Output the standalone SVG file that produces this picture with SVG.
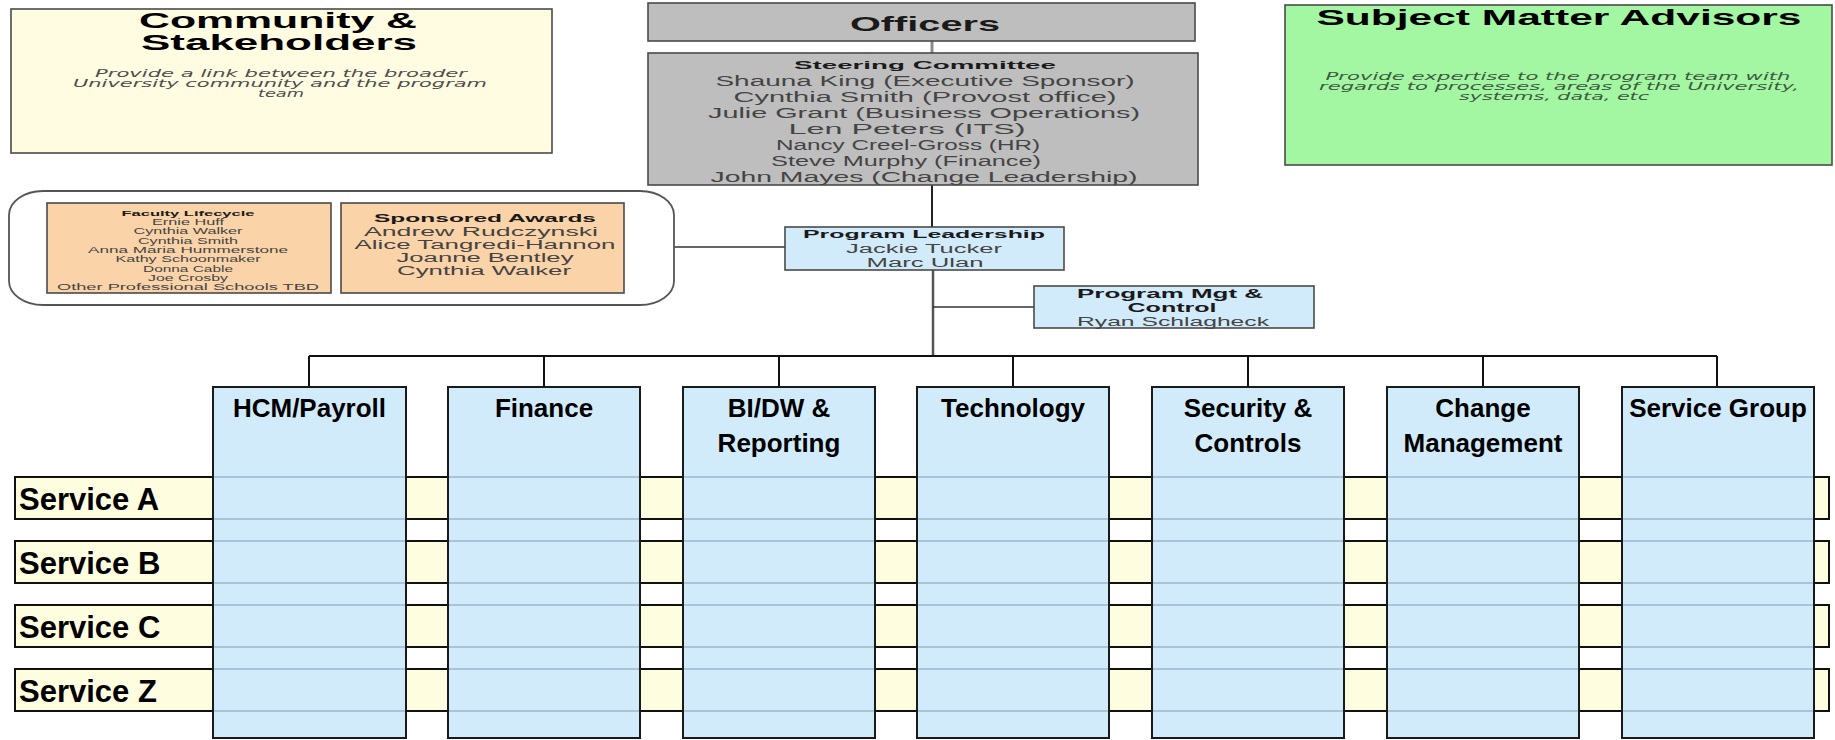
<svg xmlns="http://www.w3.org/2000/svg" width="1835" height="740" viewBox="0 0 1835 740">
<defs>
<style>
text{font-family:"Liberation Sans",Arial,sans-serif;text-anchor:middle}
.box{stroke:#4a4a4a;stroke-width:1.6}
.cream{fill:#FFFCE1}
.green{fill:#A3F7A3}
.gray{fill:#BEBEBE}
.peach{fill:#FAD3A8}
.blue{fill:#D2EBFB}
.col{fill:#D2EBFB;stroke:#1a1a1a;stroke-width:2}
.band{fill:#FFFDE0;stroke:#111;stroke-width:2}
.grid{stroke:#A7C4D8;stroke-width:2}
.conn{fill:none;stroke:#333;stroke-width:1.6}
.tree{fill:none;stroke:#111;stroke-width:2}
.hdr{font-size:26px;font-weight:bold;fill:#000}
.svc{font-size:31px;font-weight:bold;fill:#000;text-anchor:start}
.ttl{font-size:22px;font-weight:bold;fill:#000}
.desc{font-family:"DejaVu Sans",Verdana,sans-serif;font-style:italic;font-size:11px;fill:#4d4d4d}
.gdesc{fill:#3e5a3e}
.bt{font-weight:bold;fill:#1a1a1a}
.nm{fill:#444}
</style>
</defs>

<g id="connectors">
<line x1="932" y1="41" x2="932" y2="53" stroke="#8a8a8a" stroke-width="3"/>
<line x1="932" y1="185" x2="932" y2="227" stroke="#222" stroke-width="2"/>
<line x1="933" y1="270" x2="933" y2="355" stroke="#555" stroke-width="2.5"/>
<line class="conn" x1="933" y1="307" x2="1034" y2="307"/>
<line class="conn" x1="674" y1="247" x2="785" y2="247"/>
<path class="tree" d="M309 356H1717M309 356V387M544 356V387M779 356V387M1013 356V387M1248 356V387M1483 356V387M1717 356V387"/>
</g>

<g id="community">
<rect class="box cream" x="11" y="9" width="541" height="144" stroke-width="2"/>
<text class="ttl" x="278" y="28" font-size="19.5" textLength="278" lengthAdjust="spacingAndGlyphs">Community &amp;</text>
<text class="ttl" x="279" y="50" font-size="19.5" textLength="276" lengthAdjust="spacingAndGlyphs">Stakeholders</text>
<text class="desc" x="281" y="77" textLength="372" lengthAdjust="spacingAndGlyphs">Provide a link between the broader</text>
<text class="desc" x="280" y="87" textLength="414" lengthAdjust="spacingAndGlyphs">University community and the program</text>
<text class="desc" x="281" y="97" textLength="46" lengthAdjust="spacingAndGlyphs">team</text>
</g>

<g id="officers">
<rect class="box gray" x="648" y="3" width="547" height="38"/>
<text class="bt" x="925" y="31" font-size="21" textLength="150" lengthAdjust="spacingAndGlyphs">Officers</text>
</g>

<g id="steering">
<rect class="box gray" x="648" y="53" width="550" height="132"/>
<text class="bt" x="925" y="69" font-size="11" textLength="262" lengthAdjust="spacingAndGlyphs">Steering Committee</text>
<text class="nm" x="925" y="86" font-size="14" textLength="419" lengthAdjust="spacingAndGlyphs">Shauna King (Executive Sponsor)</text>
<text class="nm" x="925" y="102" font-size="14" textLength="383" lengthAdjust="spacingAndGlyphs">Cynthia Smith (Provost office)</text>
<text class="nm" x="924" y="118" font-size="14" textLength="432" lengthAdjust="spacingAndGlyphs">Julie Grant (Business Operations)</text>
<text class="nm" x="907" y="134" font-size="14" textLength="237" lengthAdjust="spacingAndGlyphs">Len Peters (ITS)</text>
<text class="nm" x="908" y="150" font-size="14" textLength="264" lengthAdjust="spacingAndGlyphs">Nancy Creel-Gross (HR)</text>
<text class="nm" x="906" y="166" font-size="14" textLength="270" lengthAdjust="spacingAndGlyphs">Steve Murphy (Finance)</text>
<text class="nm" x="924" y="182" font-size="14" textLength="427" lengthAdjust="spacingAndGlyphs">John Mayes (Change Leadership)</text>
</g>

<g id="subject-matter-advisors">
<rect class="box green" x="1285" y="5" width="547" height="160" stroke-width="2"/>
<text class="ttl" x="1559" y="25" font-size="21" textLength="485" lengthAdjust="spacingAndGlyphs">Subject Matter Advisors</text>
<text class="desc gdesc" x="1558" y="80" textLength="465" lengthAdjust="spacingAndGlyphs">Provide expertise to the program team with</text>
<text class="desc gdesc" x="1559" y="90" textLength="480" lengthAdjust="spacingAndGlyphs">regards to processes, areas of the University,</text>
<text class="desc gdesc" x="1554" y="100" textLength="190" lengthAdjust="spacingAndGlyphs">systems, data, etc</text>
</g>

<g id="functional-groups">
<rect x="9" y="191" width="665" height="114" rx="34" ry="24" fill="#fff" stroke="#555" stroke-width="1.8"/>
</g>

<g id="faculty-lifecycle">
<rect class="box peach" x="47" y="203" width="284" height="90"/>
<text class="bt" x="188" y="216" font-size="8" textLength="133" lengthAdjust="spacingAndGlyphs">Faculty Lifecycle</text>
<text class="nm" x="188" y="225" font-size="8.5" textLength="72" lengthAdjust="spacingAndGlyphs">Ernie Huff</text>
<text class="nm" x="188" y="234" font-size="8.5" textLength="109" lengthAdjust="spacingAndGlyphs">Cynthia Walker</text>
<text class="nm" x="188" y="243.5" font-size="8.5" textLength="100" lengthAdjust="spacingAndGlyphs">Cynthia Smith</text>
<text class="nm" x="188" y="253" font-size="8.5" textLength="200" lengthAdjust="spacingAndGlyphs">Anna Maria Hummerstone</text>
<text class="nm" x="188" y="262" font-size="8.5" textLength="145" lengthAdjust="spacingAndGlyphs">Kathy Schoonmaker</text>
<text class="nm" x="188" y="271.5" font-size="8.5" textLength="90" lengthAdjust="spacingAndGlyphs">Donna Cable</text>
<text class="nm" x="188" y="281" font-size="8.5" textLength="80" lengthAdjust="spacingAndGlyphs">Joe Crosby</text>
<text class="nm" x="188" y="290" font-size="8.5" textLength="262" lengthAdjust="spacingAndGlyphs">Other Professional Schools TBD</text>
</g>

<g id="sponsored-awards">
<rect class="box peach" x="341" y="203" width="283" height="90"/>
<text class="bt" x="485" y="222" font-size="10.5" textLength="222" lengthAdjust="spacingAndGlyphs">Sponsored Awards</text>
<text class="nm" x="481" y="236" font-size="12" textLength="234" lengthAdjust="spacingAndGlyphs">Andrew Rudczynski</text>
<text class="nm" x="485" y="249" font-size="12" textLength="261" lengthAdjust="spacingAndGlyphs">Alice Tangredi-Hannon</text>
<text class="nm" x="485" y="262" font-size="12" textLength="177" lengthAdjust="spacingAndGlyphs">Joanne Bentley</text>
<text class="nm" x="484" y="275" font-size="12" textLength="174" lengthAdjust="spacingAndGlyphs">Cynthia Walker</text>
</g>

<g id="program-leadership">
<rect class="box blue" x="785" y="227" width="279" height="43"/>
<text class="bt" x="924" y="238" font-size="11" textLength="242" lengthAdjust="spacingAndGlyphs">Program Leadership</text>
<text class="nm" x="924" y="253" font-size="12.5" textLength="156" lengthAdjust="spacingAndGlyphs">Jackie Tucker</text>
<text class="nm" x="925" y="267" font-size="12.5" textLength="117" lengthAdjust="spacingAndGlyphs">Marc Ulan</text>
</g>

<g id="program-mgt-control">
<rect class="box blue" x="1034" y="286" width="280" height="42"/>
<text class="bt" x="1170" y="298" font-size="12" textLength="186" lengthAdjust="spacingAndGlyphs">Program Mgt &amp;</text>
<text class="bt" x="1172" y="312" font-size="12" textLength="89" lengthAdjust="spacingAndGlyphs">Control</text>
<text class="nm" x="1173" y="326" font-size="13" textLength="192" lengthAdjust="spacingAndGlyphs">Ryan Schlagheck</text>
</g>

<g id="service-rows">
<rect class="band" x="15" y="477" width="1814" height="42"/>
<rect class="band" x="15" y="541" width="1814" height="42"/>
<rect class="band" x="15" y="605" width="1814" height="42"/>
<rect class="band" x="15" y="669" width="1814" height="42"/>
</g>

<g id="columns">
<rect class="col" x="213" y="387" width="193" height="351"/>
<rect class="col" x="448" y="387" width="192" height="351"/>
<rect class="col" x="683" y="387" width="192" height="351"/>
<rect class="col" x="917" y="387" width="192" height="351"/>
<rect class="col" x="1152" y="387" width="192" height="351"/>
<rect class="col" x="1387" y="387" width="192" height="351"/>
<rect class="col" x="1622" y="387" width="192" height="351"/>
</g>

<g id="column-gridlines">
<path class="grid" d="M214 477H405M214 519H405M214 541H405M214 583H405M214 605H405M214 647H405M214 669H405M214 711H405"/>
<path class="grid" d="M449 477H639M449 519H639M449 541H639M449 583H639M449 605H639M449 647H639M449 669H639M449 711H639"/>
<path class="grid" d="M684 477H874M684 519H874M684 541H874M684 583H874M684 605H874M684 647H874M684 669H874M684 711H874"/>
<path class="grid" d="M918 477H1108M918 519H1108M918 541H1108M918 583H1108M918 605H1108M918 647H1108M918 669H1108M918 711H1108"/>
<path class="grid" d="M1153 477H1343M1153 519H1343M1153 541H1343M1153 583H1343M1153 605H1343M1153 647H1343M1153 669H1343M1153 711H1343"/>
<path class="grid" d="M1388 477H1578M1388 519H1578M1388 541H1578M1388 583H1578M1388 605H1578M1388 647H1578M1388 669H1578M1388 711H1578"/>
<path class="grid" d="M1623 477H1813M1623 519H1813M1623 541H1813M1623 583H1813M1623 605H1813M1623 647H1813M1623 669H1813M1623 711H1813"/>
</g>

<g id="hcm-payroll"><text class="hdr" x="309.5" y="417">HCM/Payroll</text></g>
<g id="finance"><text class="hdr" x="544" y="417">Finance</text></g>
<g id="bi-dw-reporting"><text class="hdr" x="779" y="417">BI/DW &amp;</text><text class="hdr" x="779" y="452">Reporting</text></g>
<g id="technology"><text class="hdr" x="1013" y="417">Technology</text></g>
<g id="security-controls"><text class="hdr" x="1248" y="417">Security &amp;</text><text class="hdr" x="1248" y="452">Controls</text></g>
<g id="change-management"><text class="hdr" x="1483" y="417">Change</text><text class="hdr" x="1483" y="452">Management</text></g>
<g id="service-group"><text class="hdr" x="1718" y="417">Service Group</text></g>

<g id="service-a"><text class="svc" x="19" y="510">Service A</text></g>
<g id="service-b"><text class="svc" x="19" y="574">Service B</text></g>
<g id="service-c"><text class="svc" x="19" y="638">Service C</text></g>
<g id="service-z"><text class="svc" x="19" y="702">Service Z</text></g>
</svg>
